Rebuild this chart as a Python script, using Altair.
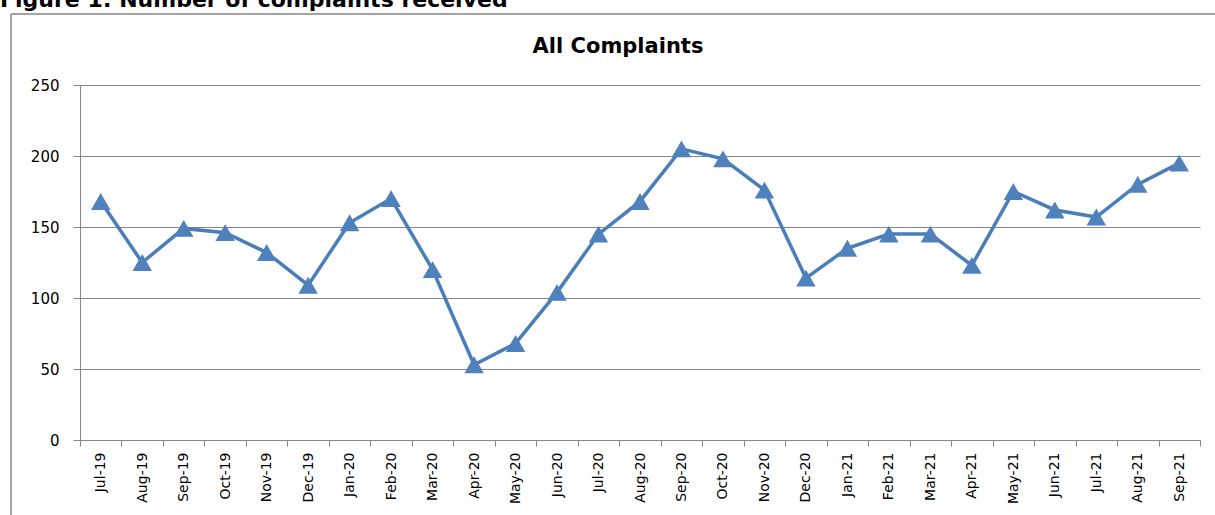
import altair as alt
import pandas as pd

months = ["Jul-19", "Aug-19", "Sep-19", "Oct-19", "Nov-19", "Dec-19", "Jan-20", "Feb-20",
          "Mar-20", "Apr-20", "May-20", "Jun-20", "Jul-20", "Aug-20", "Sep-20", "Oct-20",
          "Nov-20", "Dec-20", "Jan-21", "Feb-21", "Mar-21", "Apr-21", "May-21", "Jun-21",
          "Jul-21", "Aug-21", "Sep-21"]
# note: list above has 27 entries (Jul-19 .. Sep-21)
complaints = [168, 125, 149, 146, 132, 109, 153, 170, 120, 53, 68, 104, 145, 168,
              205, 198, 176, 114, 135, 145, 145, 123, 175, 162, 157, 180, 195]
y_ticks = [0, 50, 100, 150, 200, 250]

fig_title = "Figure 1: Number of complaints received"
chart_title = "All Complaints"

BLUE = "#4A7EBB"
GREY = "#868686"
W, H = 1120, 355
PAD_L, PAD_T = 80, 85

df = pd.DataFrame({"month": months, "value": complaints})

base = alt.Chart(df).encode(
    x=alt.X("month:N", sort=months,
            scale=alt.Scale(paddingInner=0, paddingOuter=0),
            axis=alt.Axis(title=None, labelAngle=-90, labelAlign="right",
                          labelBaseline="middle", tickBand="extent",
                          tickSize=6, labelPadding=6, grid=False,
                          domainColor=GREY, tickColor=GREY,
                          labelFont="DejaVu Sans", labelFontSize=14,
                          labelColor="#000000", labelOverlap=False)),
    y=alt.Y("value:Q", scale=alt.Scale(domain=[0, 250], nice=False),
            axis=alt.Axis(title=None, values=y_ticks, grid=True, gridColor=GREY,
                          gridWidth=1, domainColor=GREY, tickColor=GREY,
                          tickSize=7, labelPadding=14, labelFont="DejaVu Sans",
                          labelFontSize=15, labelColor="#000000")),
)

line = base.mark_line(color=BLUE, strokeWidth=3.5)
pts = base.mark_point(shape="triangle-up", filled=True, size=380, color="#4F81BD",
                      opacity=1)

tdf = pd.DataFrame({"t": [fig_title]})
ftitle = alt.Chart(tdf).mark_text(
    align="left", baseline="alphabetic", font="DejaVu Sans", fontSize=22,
    fontWeight="bold", color="#000000"
).encode(text="t:N", x=alt.value(0 - PAD_L), y=alt.value(7 - PAD_T))

cdf = pd.DataFrame({"t": [chart_title]})
ctitle = alt.Chart(cdf).mark_text(
    align="center", baseline="alphabetic", font="DejaVu Sans", fontSize=21,
    fontWeight="bold", color="#000000"
).encode(text="t:N", x=alt.value(618 - PAD_L), y=alt.value(53 - PAD_T))

frame_top = alt.Chart(cdf).mark_rule(color=GREY, strokeWidth=1.5).encode(
    x=alt.value(11 - PAD_L), x2=alt.value(1215 - PAD_L), y=alt.value(14 - PAD_T))
frame_left = alt.Chart(cdf).mark_rule(color=GREY, strokeWidth=1.5).encode(
    x=alt.value(11 - PAD_L), y=alt.value(14 - PAD_T), y2=alt.value(515 - PAD_T))

chart = alt.layer(frame_top, frame_left, line, pts, ftitle, ctitle).properties(
    width=W, height=H,
    autosize=alt.AutoSizeParams(type="none"),
    padding={"left": PAD_L, "top": PAD_T, "right": 1215 - PAD_L - W,
             "bottom": 515 - PAD_T - H},
    background="white",
).configure_view(stroke=None)

chart.save("out.html", embed_options={"renderer": "svg", "actions": False})
